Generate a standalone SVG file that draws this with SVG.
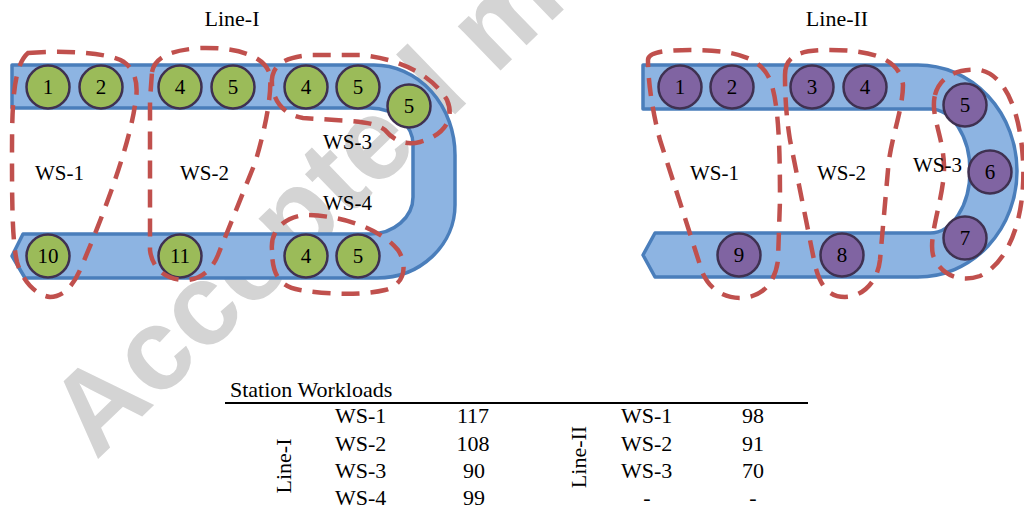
<svg xmlns="http://www.w3.org/2000/svg" width="1024" height="509" viewBox="0 0 1024 509" font-family="'Liberation Serif', 'Times New Roman', 'DejaVu Serif', serif">
<style>
.t,.n,.lbl{font-family:'Liberation Serif','Times New Roman','DejaVu Serif',serif;fill:#000}
.t{font-size:22px}
.n{font-size:21px;text-anchor:middle}
.lbl{font-size:21px}
.belt{fill:#8db4e2;stroke:#4a7ebb;stroke-width:3.5;stroke-linejoin:round}
.g{fill:#9bbb59;stroke:#3f3151;stroke-width:2.5}
.p{fill:#8064a2;stroke:#3f3151;stroke-width:2.5}
.ws{fill:none;stroke:#c0504d;stroke-width:4.5;stroke-dasharray:18 11}
.wm{font-family:'Liberation Sans',Arial,sans-serif;font-weight:bold;font-size:116px;fill:#d4d4d4}
</style>
<rect width="1024" height="509" fill="#fff"/>
<text class="wm" transform="translate(96,461) rotate(-44)">Accepted m</text>

<g id="line1">
  <text class="t" x="232" y="26" text-anchor="middle">Line-I</text>
  <path id="belt1" class="belt" d="M12,65 H374 A81,90 0 0 1 455,155 V205 A78,73 0 0 1 377,278 H25 L12,256 L23,234 H370 A43,37 0 0 0 413,197 V147 A43,37 0 0 0 370,108 H12 Z"/>
  <g id="l1n1"><circle class="g" cx="48" cy="87" r="21.5"/><text class="n" x="48" y="94">1</text></g>
  <g id="l1n2"><circle class="g" cx="101" cy="87" r="21.5"/><text class="n" x="101" y="94">2</text></g>
  <g id="l1n4a"><circle class="g" cx="180" cy="87" r="21.5"/><text class="n" x="180" y="94">4</text></g>
  <g id="l1n5a"><circle class="g" cx="233" cy="87" r="21.5"/><text class="n" x="233" y="94">5</text></g>
  <g id="l1n4b"><circle class="g" cx="306" cy="87" r="21.5"/><text class="n" x="306" y="94">4</text></g>
  <g id="l1n5b"><circle class="g" cx="358" cy="87" r="21.5"/><text class="n" x="358" y="94">5</text></g>
  <g id="l1n5c"><circle class="g" cx="409" cy="106" r="21.5"/><text class="n" x="409" y="113">5</text></g>
  <g id="l1n10"><circle class="g" cx="48" cy="256" r="21.5"/><text class="n" x="48" y="263">10</text></g>
  <g id="l1n11"><circle class="g" cx="180" cy="256" r="21.5"/><text class="n" x="180" y="263">11</text></g>
  <g id="l1n4c"><circle class="g" cx="306" cy="256" r="21.5"/><text class="n" x="306" y="263">4</text></g>
  <g id="l1n5d"><circle class="g" cx="358" cy="256" r="21.5"/><text class="n" x="358" y="263">5</text></g>
  <g id="l1ws">
    <path class="ws" d="M28,53 C60,50 108,52 124,62 C138,72 138,90 135,105 C130,140 110,200 80,270 C72,288 62,297 50,297 C35,295 22,280 17,262 C12,240 12,200 12,150 C12,100 14,65 28,53 Z"/>
    <path class="ws" d="M152,72 C155,55 175,50 200,48 C235,47 265,55 270,75 C272,95 265,130 255,163 L218,255 C212,270 200,280 185,280 C165,280 152,268 150,250 L150,100 Z"/>
    <path class="ws" d="M272,85 C270,65 285,57 310,55 L360,55 C395,58 430,72 447,100 C455,118 445,135 420,142 C405,146 393,140 385,130 C375,122 355,121 335,120 L303,118 C285,115 274,103 272,85 Z"/>
    <path class="ws" d="M272,250 C270,230 285,217 305,215 C340,215 380,228 398,250 C408,265 405,285 385,290 C365,295 330,295 300,290 C280,287 272,275 272,250 Z"/>
  </g>
  <text class="lbl" x="35" y="180">WS-1</text>
  <text class="lbl" x="180" y="180">WS-2</text>
  <text class="lbl" x="323" y="149">WS-3</text>
  <text class="lbl" x="323" y="210">WS-4</text>
</g>

<g id="line2">
  <text class="t" x="837" y="26" text-anchor="middle">Line-II</text>
  <path id="belt2" class="belt" d="M643,65 H918 A99,106 0 0 1 918,277 H655 L643,255 L655,233 H930 A40,62 0 0 0 930,109 H643 Z"/>
  <g id="l2n1"><circle class="p" cx="680" cy="87" r="21.5"/><text class="n" x="680" y="94">1</text></g>
  <g id="l2n2"><circle class="p" cx="732" cy="87" r="21.5"/><text class="n" x="732" y="94">2</text></g>
  <g id="l2n3"><circle class="p" cx="812" cy="87" r="21.5"/><text class="n" x="812" y="94">3</text></g>
  <g id="l2n4"><circle class="p" cx="865" cy="87" r="21.5"/><text class="n" x="865" y="94">4</text></g>
  <g id="l2n5"><circle class="p" cx="965" cy="105" r="21.5"/><text class="n" x="965" y="112">5</text></g>
  <g id="l2n6"><circle class="p" cx="990" cy="172" r="21.5"/><text class="n" x="990" y="179">6</text></g>
  <g id="l2n7"><circle class="p" cx="965" cy="238" r="21.5"/><text class="n" x="965" y="245">7</text></g>
  <g id="l2n8"><circle class="p" cx="842" cy="255" r="21.5"/><text class="n" x="842" y="262">8</text></g>
  <g id="l2n9"><circle class="p" cx="739" cy="255" r="21.5"/><text class="n" x="739" y="262">9</text></g>
  <g id="l2ws">
    <path class="ws" d="M648,60 C648,52 665,50 690,50 C730,50 760,55 770,80 C778,100 780,140 780,200 L778,260 C775,285 760,298 740,298 C720,298 705,285 700,265 L660,140 C652,110 648,80 648,60 Z"/>
    <path class="ws" d="M785,75 C785,55 800,50 830,50 C870,50 900,58 903,85 C903,110 890,140 888,170 L880,260 C877,285 860,297 845,297 C828,297 820,285 815,265 L790,140 C786,115 785,95 785,75 Z"/>
    <path class="ws" d="M935,95 C940,75 960,68 980,70 C1005,75 1020,110 1023,160 C1026,215 1010,262 980,276 C960,283 940,275 933,255 C928,235 945,195 944,165 C943,135 930,115 935,95 Z"/>
  </g>
  <text class="lbl" x="690" y="180">WS-1</text>
  <text class="lbl" x="817" y="180">WS-2</text>
  <text class="lbl" x="913" y="172">WS-3</text>
</g>

<g id="table">
  <text class="t" x="230" y="397">Station Workloads</text>
  <line x1="225" y1="403" x2="808" y2="403" stroke="#000" stroke-width="2"/>
  <text class="t" text-anchor="middle" transform="translate(291,466) rotate(-90)">Line-I</text>
  <text class="t" text-anchor="middle" transform="translate(586,457) rotate(-90)">Line-II</text>
  <text class="t" x="335" y="423">WS-1</text>
  <text class="t" x="335" y="451">WS-2</text>
  <text class="t" x="335" y="478">WS-3</text>
  <text class="t" x="335" y="505">WS-4</text>
  <text class="t" x="473" y="423" text-anchor="middle">117</text>
  <text class="t" x="473" y="451" text-anchor="middle">108</text>
  <text class="t" x="474" y="478" text-anchor="middle">90</text>
  <text class="t" x="474" y="505" text-anchor="middle">99</text>
  <text class="t" x="621" y="423">WS-1</text>
  <text class="t" x="621" y="451">WS-2</text>
  <text class="t" x="621" y="478">WS-3</text>
  <text class="t" x="647" y="505" text-anchor="middle">-</text>
  <text class="t" x="753" y="423" text-anchor="middle">98</text>
  <text class="t" x="753" y="451" text-anchor="middle">91</text>
  <text class="t" x="753" y="478" text-anchor="middle">70</text>
  <text class="t" x="753" y="505" text-anchor="middle">-</text>
</g>
</svg>
